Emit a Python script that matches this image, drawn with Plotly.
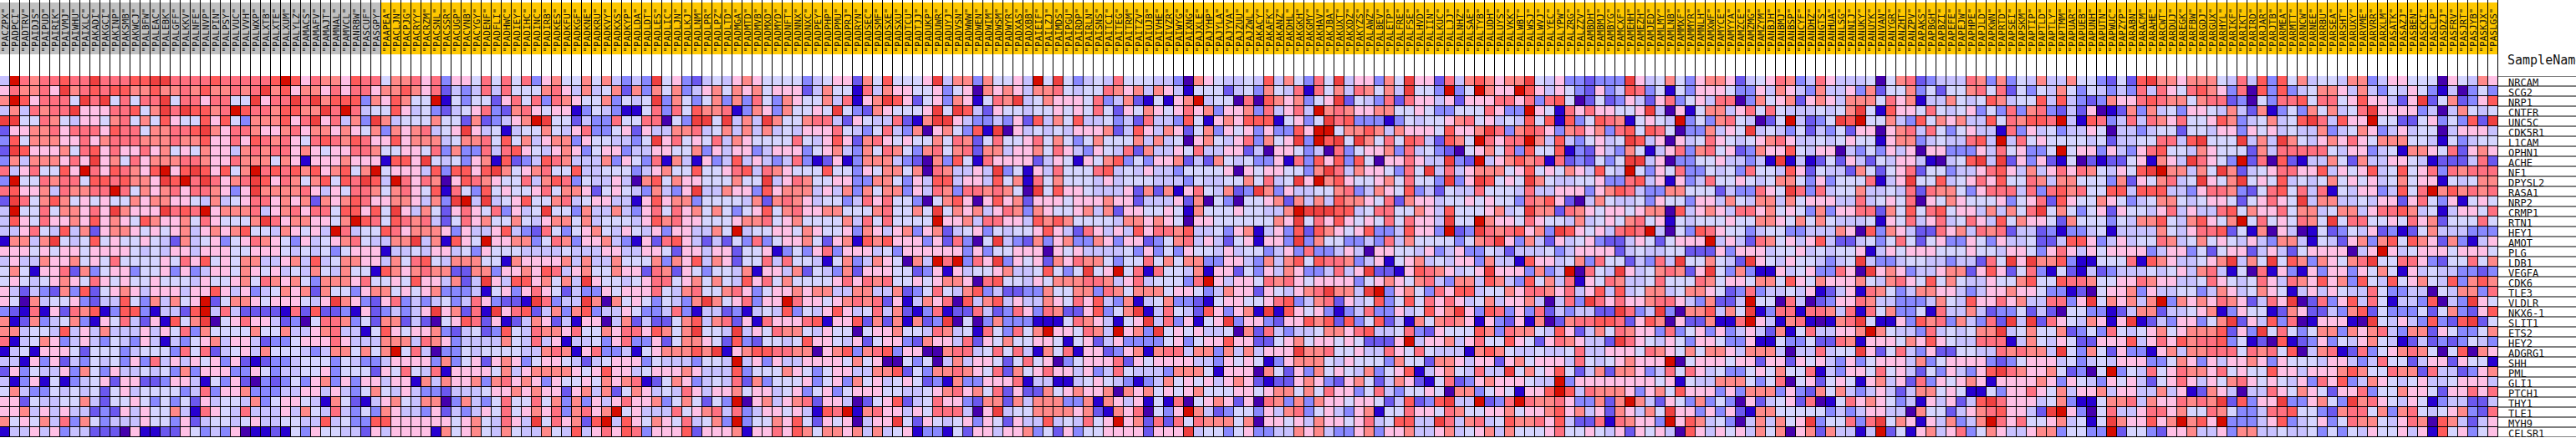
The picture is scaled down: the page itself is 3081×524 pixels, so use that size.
import plotly.graph_objects as go

WIDTH, HEIGHT = 3081, 524
GRAY_COUNT = 38
PALETTE = ["#4500AD", "#2700D1", "#6B58EF", "#8888FF", "#C7C1FF", "#D5D5FF",
           "#FFC0E5", "#FF8989", "#FF7080", "#FF5A5A", "#EF4040", "#D60C00"]

GENES = ["NRCAM", "SCG2", "NRP1", "CNTFR", "UNC5C", "CDK5R1", "L1CAM", "OPHN1", "ACHE", "NF1", "DPYSL2", "RASA1",
         "NRP2", "CRMP1", "RTN1", "HEY1", "AMOT", "PLG", "LDB1", "VEGFA", "CDK6", "TLE3", "VLDLR", "NKX6-1",
         "SLIT1", "ETS2", "HEY2", "ADGRG1", "SHH", "PML", "GLI1", "PTCH1", "THY1", "TLE1", "MYH9", "CELSR1"]

SAMPLES = """PACZPX PADPCI PADTRV PAIDJS PAIPUD PAIRIK PAIVMJ PAIWHU PAIXLC PAKADI PAKGCI PAKINP PAKSMB PAKWCJ PALBFW PALEAC PALEBK PALGFF PALKKV PALNFE PALNVP PALPIN PALPSY PALVUC PALVVH PALWXP PALXTB PALXTE PALXUM PALYLZ PAMACS PAMAFV PAMAJT PAMNAL PAMVCL PANRBW PASCUF PASGPY PAAPEA PACLJN PACPJG PACRYY
PACRZM PACSNL PACSSR PACUGP PACVNB PACYGY PADENF PADFLI PADHWC PADIEY PADIHC PADINC PADIRB PADKES PADKFU PADKGF PADKNE PADKRU PADKVY PADKXS PADKYP PADLDA PADLDT PADLES PADLIC PADLJN PADLKJ PADLNM PADLPR PADLPZ PADLTD PADMGA PADMTD PADMVB PADMXD PADMYD PADNFT PADNNX PADNXC PADPEY PADPHP PADPMU
PADPRJ PADRYN PADSEC PADSMF PADSXE PADSXU PADTCU PADTJJ PADUKP PADUWR PADUYJ PADVSN PADWWW PADWEN PADWIM PADWSM PADWYR PADXAS PADXBB PAIEIF PAILZJ PAIMDS PAIPGU PAIRDP PAIRLN PAISNS PAITCI PAITEG PAITRM PAITZV PAIUJB PAIVHE PAIVZR PAIWYG PAIXNG PAJXLE PAJYHP PAJYLA PAJYVA PAJZUU PAJZWL PAKACY
PAKAFK PAKANZ PAKDHL PAKGKH PAKGMY PAKHAV PAKJBA PAKUXT PAKXDZ PAKYZS PALAWZ PALBEV PALETP PALFRE PALFSE PALHVD PALIIN PALKUC PALLJJ PALNHZ PALSAE PALTYB PALUDH PALUYS PALVKK PALWBT PALWSJ PALWVJ PALYEC PALYPW PALZRG PALZZV PAMBDH PAMBMJ PAMBYG PAMCXF PAMEHH PAMEZH PAMJED PAMLMY PAMLNB PAMMXF
PAMMYR PAMNLH PAMXWF PAMYCE PAMYYA PAMZCE PAMZMG PAMZYM PANBJH PANBMJ PANBSP PANCYF PANDHZ PANGTS PANHUA PANLSG PANNIJ PANUKY PANUYK PANVAN PANYGR PANZHT PANZPV PAPAKS PAPBGH PAPBZI PAPEFE PAPEJW PAPHPE PAPJLD PAPKWN PAPRTD PAPSEI PAPSKM PAPTIP PAPTLD PAPTLY PAPTMM PAPUAR PAPUEB PAPUNH PAPUTN
PAPWUC PAPZYP PARABN PARACM PARAHE PARCWT PARDUJ PAREGK PARFBW PARGDJ PARGUX PARHYL PARIKF PARIKT PARIRD PARJAR PARJTB PARMEA PARMTT PARNCW PARNEE PARRBU PARSEA PARSHT PARUXY PARVME PARVRR PARXLM PASATK PASAZJ PASBEN PASCKI PASCLP PASDZJ PASFRV PASJRT PASJYB PASKJX PASLGS""".split()

# Colour level of each cell (0-9, a, b = palette index). One list per block of columns.
BLOCK_1 = """4 b 8 7 8 8 9 8 8 a 8 8 8 9 9 a a 8 8 8 8 9 8 8 8 8 8 9 b 9 6 8 7 7 6 9 8 8 5 7 7 8
6 8 7 7 8 6 a 7 8 9 8 9 9 7 7 9 7 7 8 7 9 7 7 8 7 8 a 7 9 6 7 7 6 8 6 8 8 6 7 7 9 7
7 b 9 6 8 8 8 5 a 8 a 5 8 5 8 8 a 5 8 8 6 8 8 5 5 a 6 8 8 a 8 a 7 9 9 9 3 7 6 9 7 5
4 7 4 8 7 8 8 a 6 6 6 8 8 9 5 7 a 8 a 9 9 7 8 b 9 8 8 7 9 9 7 7 a 8 b 8 4 5 5 9 6 4
a a 5 5 8 7 5 4 6 6 5 7 8 5 7 5 9 6 5 5 9 6 9 5 3 7 7 7 9 6 8 a 6 8 4 7 3 a 7 4 5 5
2 6 6 7 7 8 6 8 8 8 6 9 8 8 5 7 7 8 8 9 a 7 6 8 8 7 6 6 7 8 6 7 7 6 7 6 5 7 3 7 6 7
3 9 5 7 7 7 6 6 8 6 7 8 8 8 7 7 7 8 7 7 9 6 6 8 6 9 8 7 8 6 5 8 9 8 7 9 8 6 6 9 6 7
2 a 9 6 6 6 7 5 8 9 6 8 6 6 8 6 7 5 6 5 7 6 6 4 7 8 7 8 8 6 7 6 5 6 6 8 8 7 5 5 6 6
3 7 4 7 7 7 6 8 6 a 6 7 5 8 6 7 7 7 8 8 7 6 6 8 7 7 7 5 7 6 1 6 6 6 7 6 6 6 1 9 9 6
8 4 6 8 5 5 9 6 b 8 6 9 8 7 6 9 b 6 9 a 9 6 9 5 7 b 8 9 8 9 7 9 6 7 9 5 7 b 5 6 6 6
3 b 5 5 8 7 8 8 5 9 9 8 9 7 7 6 a 9 b 8 a 8 6 7 8 a 9 6 8 7 5 7 9 5 9 8 a 9 4 b 8 6
8 9 6 6 7 4 8 7 7 8 8 b 8 5 7 6 7 8 6 8 8 7 6 3 6 a 7 7 7 7 8 6 4 6 5 8 8 7 5 7 8 6
2 a 8 5 7 9 7 5 6 5 6 5 5 7 6 7 7 6 6 5 4 7 4 5 6 8 8 6 7 6 7 2 7 6 7 9 8 6 6 7 7 6
4 b 5 5 8 5 7 7 6 8 6 a 7 6 6 6 a 8 9 8 b 6 7 7 7 8 4 6 7 8 6 8 8 5 9 9 6 9 5 a 6 4
4 9 6 5 8 6 6 7 6 9 6 7 6 5 9 7 6 6 7 5 8 6 5 5 5 7 a 8 6 7 7 6 6 5 7 b 9 8 5 9 8 7
4 4 6 8 5 4 9 4 7 2 6 7 7 6 5 6 5 6 7 4 6 7 6 7 9 5 5 4 7 6 5 6 4 b 8 4 5 5 9 8 6 7
1 7 7 4 7 a 5 4 5 9 5 6 5 5 6 5 4 2 7 4 5 6 3 5 6 8 7 6 5 3 6 4 5 6 7 8 5 4 4 7 7 a
6 6 6 5 6 5 6 6 5 6 6 6 6 5 4 5 4 6 6 4 6 6 6 5 5 6 6 6 5 4 5 4 5 3 5 6 6 6 1 4 4 5
4 6 4 4 7 6 6 7 5 6 5 8 5 5 5 5 6 5 8 6 9 5 6 5 7 7 4 4 6 7 4 9 4 5 7 7 6 6 4 7 5 8
5 7 5 1 6 6 8 2 7 3 5 6 6 3 5 5 6 3 6 3 4 6 6 5 7 6 5 6 4 5 4 7 5 4 7 5 5 1 9 7 6 7
5 6 5 4 5 6 7 6 5 8 6 5 6 5 5 6 5 5 5 4 6 5 5 6 7 5 8 7 6 7 5 3 7 7 7 6 8 5 5 6 5 9
6 4 2 4 3 2 7 3 9 2 5 6 7 6 4 6 6 6 4 6 6 9 6 4 6 3 4 5 7 6 7 2 7 5 5 3 6 7 7 5 6 5
6 5 0 7 4 5 5 6 3 2 4 4 9 5 3 7 4 7 5 6 b 2 5 7 7 6 5 6 6 6 5 4 6 a 7 6 3 2 6 8 3 4
3 2 1 8 1 6 2 8 7 9 1 3 9 9 3 1 4 4 2 9 b 4 8 4 2 2 2 2 1 8 2 9 2 2 3 1 6 2 3 4 3 4
7 1 2 7 3 4 5 7 3 1 6 5 8 4 2 6 1 9 5 7 a 0 5 6 8 6 6 4 2 3 0 5 8 8 7 3 5 2 7 7 2 4
7 7 4 5 5 4 9 4 6 4 7 4 4 4 6 4 6 5 8 3 7 5 5 5 5 7 5 5 7 4 4 6 7 8 4 4 1 5 9 6 5 6
8 1 4 5 7 6 3 4 6 4 3 5 4 3 6 4 1 4 3 5 6 7 4 6 6 4 2 3 3 5 6 6 6 8 6 4 4 4 7 7 7 4
1 4 5 1 6 6 6 5 2 5 5 5 3 4 5 5 5 3 8 5 8 2 4 5 6 4 7 5 5 5 4 3 4 7 7 5 7 5 7 b 5 8
4 4 1 6 3 6 2 4 3 5 4 5 3 6 3 8 4 6 4 6 5 6 3 6 2 1 2 3 3 4 5 5 5 3 5 4 3 3 4 6 6 6
2 6 3 5 4 4 6 3 7 5 3 6 4 4 5 4 5 3 7 3 6 6 6 3 3 6 5 3 4 4 5 5 6 3 5 5 5 2 6 5 8 5
4 1 3 6 1 5 1 3 4 5 6 2 6 6 2 2 3 6 6 4 1 5 3 6 2 0 3 2 3 5 3 6 7 3 6 3 6 6 4 6 6 1
5 7 4 3 3 5 4 5 4 5 2 5 6 4 5 5 5 5 3 4 8 3 6 6 7 3 3 3 4 4 6 6 4 6 4 3 5 7 5 4 6 4
6 6 2 5 4 4 5 5 7 4 2 5 5 6 5 3 5 3 5 2 6 4 5 5 4 7 3 5 6 6 5 4 1 7 5 2 1 4 6 7 5 4
6 6 7 4 6 4 6 4 4 2 3 2 6 4 6 5 5 7 4 1 8 6 5 4 8 4 4 4 6 4 7 5 4 8 4 3 5 3 7 6 4 4
7 5 6 5 7 4 8 3 7 5 3 4 4 4 6 5 5 3 6 2 4 5 5 4 5 6 4 4 5 5 4 4 9 4 5 3 3 9 9 6 6 6
1 4 4 6 4 6 3 4 4 2 2 2 0 6 1 1 2 2 6 5 3 4 3 6 0 1 1 2 1 5 3 6 5 5 4 4 2 6 4 6 6 6"""

BLOCK_2 = """6 8 3 6 6 5 8 5 8 5 8 3 6 7 5 5 7 5 7 4 3 4 3 a 5 6 3 2 4 5 4 6 7 6 5 5 5 5 3 4 5 6
6 8 2 4 3 4 8 4 8 5 5 5 7 8 6 4 7 4 5 7 2 7 3 7 5 7 3 4 6 7 5 7 6 7 5 6 6 6 2 4 7 5
5 b 1 5 3 5 5 2 6 8 5 8 3 8 7 6 5 5 7 3 5 4 5 a 3 7 5 3 5 7 3 7 3 8 5 3 7 6 5 5 7 4
5 3 2 4 5 6 8 3 2 7 8 6 5 6 6 1 3 5 4 3 1 1 5 8 3 8 5 9 7 7 8 1 3 7 6 3 7 5 5 6 5 a
5 7 5 5 2 7 2 3 4 6 7 b a 5 5 2 4 3 3 8 5 5 8 8 0 5 3 a a 5 a 4 7 4 a 7 5 5 7 8 8 4
8 4 5 6 a 6 4 5 1 4 5 5 7 5 4 6 8 3 3 5 6 2 6 4 4 7 7 8 4 5 7 4 7 4 7 4 5 4 6 6 6 8
7 7 4 5 7 7 8 5 9 5 7 4 6 7 7 3 6 5 5 4 4 3 5 a 6 8 5 6 5 8 4 7 6 5 5 5 5 8 5 4 6 9
5 8 3 7 3 3 8 4 8 9 6 5 4 6 7 6 3 5 6 6 3 4 4 6 6 5 5 7 3 6 4 6 6 3 4 6 6 6 3 5 6 7
a 5 4 5 3 6 7 1 9 2 3 4 9 8 7 4 4 4 7 3 6 5 3 8 1 7 4 1 6 3 4 9 4 6 4 3 4 8 3 1 2 6
4 9 3 9 9 6 9 a 7 5 6 7 8 5 5 9 4 4 5 5 5 3 4 6 7 5 5 9 5 5 6 8 9 4 8 7 6 5 5 5 9 5
8 7 0 6 9 8 7 6 5 5 8 4 7 9 8 3 5 4 4 6 4 0 7 9 5 7 6 6 5 5 5 7 5 5 a 4 6 8 7 5 5 6
5 9 1 8 5 3 9 5 6 5 5 6 8 5 7 7 6 2 5 6 5 4 3 7 4 3 6 a 4 4 7 6 6 3 9 6 7 7 7 4 6 4
4 7 3 a b 4 a 4 5 6 9 5 5 7 8 4 5 6 6 4 4 1 6 9 6 7 7 3 5 5 5 5 4 7 2 7 8 7 6 4 5 5
7 5 2 6 8 6 5 8 3 6 4 5 a 5 5 3 7 4 4 7 4 3 6 8 5 8 6 7 5 7 5 3 5 6 9 5 7 8 6 6 7 7
8 4 2 5 8 6 7 5 5 7 5 4 6 7 7 5 7 4 5 5 5 4 6 9 7 8 6 6 5 5 5 6 7 7 8 5 6 7 5 5 5 5
7 7 6 3 6 4 4 6 9 4 3 2 8 5 3 5 6 7 5 4 6 5 4 6 3 6 6 4 4 7 5 b 4 5 5 6 6 5 7 6 5 5
4 7 1 9 6 5 b 6 6 7 7 3 5 8 7 3 6 6 7 4 3 1 6 2 8 9 6 4 2 4 2 5 3 8 3 5 6 6 7 5 2 6
4 6 6 4 5 3 6 5 5 5 4 4 4 4 5 4 4 4 6 6 4 4 6 6 5 2 6 6 4 6 6 2 5 5 6 1 3 5 3 6 8 3
9 5 4 7 7 7 5 5 1 7 6 6 6 6 7 4 7 4 4 7 5 5 5 7 3 7 6 9 4 7 6 2 5 5 8 4 8 5 5 4 1 5
8 7 7 2 2 7 7 3 6 6 7 6 9 8 4 6 7 5 5 7 6 6 2 8 7 2 6 5 3 5 5 4 7 1 6 6 4 7 2 5 4 3
6 6 4 7 2 4 a 6 4 9 9 6 7 5 7 4 a 6 5 5 4 5 6 8 8 5 6 7 5 7 5 4 9 6 8 5 7 5 5 5 5 6
6 7 3 3 3 4 1 5 6 3 6 8 6 5 2 4 3 3 6 5 6 6 6 8 5 4 7 8 5 5 7 8 6 3 5 6 6 7 6 7 7 4
3 4 5 3 4 8 6 3 2 2 1 a 8 3 4 4 a 7 0 7 5 6 5 3 5 4 3 7 a 7 5 6 8 3 6 6 b 8 6 6 5 6
6 a 6 7 2 8 1 a 6 8 9 2 4 7 3 7 9 3 4 4 6 5 3 3 4 8 3 1 4 4 2 3 1 4 5 4 9 3 5 4 6 9
2 0 5 6 9 8 2 6 1 2 4 7 6 2 4 1 6 6 0 4 7 2 4 2 2 5 7 9 4 7 8 2 6 1 8 6 6 6 8 9 1 6
6 7 3 2 4 5 2 3 9 5 4 8 7 7 6 8 5 5 7 6 8 8 6 9 7 5 7 a 5 5 4 a 4 6 5 8 7 7 5 4 6 5
8 7 6 3 4 4 4 4 7 5 4 8 4 6 1 4 4 5 3 6 8 3 3 6 2 5 7 7 6 5 2 9 3 2 5 5 4 5 9 6 6 5
4 0 3 3 5 4 5 5 5 5 4 4 7 8 7 1 6 8 3 3 4 1 5 6 7 7 7 9 7 a 1 6 7 9 9 8 8 7 7 0 6 7
6 3 7 3 5 6 2 6 7 6 3 5 6 6 5 4 2 4 5 6 6 6 3 5 4 4 4 3 5 5 4 b 4 6 3 6 4 4 6 6 6 6
4 8 1 6 6 6 6 5 7 4 6 7 7 7 7 6 5 6 9 6 6 4 5 6 6 6 7 6 4 4 4 9 3 5 5 5 7 6 5 3 5 6
7 4 7 6 6 7 3 7 8 6 7 6 3 6 5 5 6 5 7 6 7 8 1 2 5 7 6 3 4 5 4 8 2 7 3 5 5 5 6 3 5 6
3 3 2 4 4 4 5 6 6 7 6 7 6 6 2 6 7 4 7 2 5 7 6 4 5 4 8 6 4 6 6 7 5 6 6 4 5 6 3 5 6 3
7 7 0 3 7 4 3 5 8 5 5 8 5 7 3 7 3 6 4 6 8 6 6 7 3 5 7 5 2 5 3 b 0 6 7 4 6 7 8 2 6 6
3 6 2 4 3 4 6 5 8 5 6 7 6 8 3 7 8 6 7 b 5 6 4 4 4 8 5 6 7 8 4 8 3 4 6 6 5 6 4 1 9 8
6 6 6 5 6 7 5 4 8 6 4 a 5 8 6 7 2 9 b 4 9 6 5 7 6 5 8 4 5 7 3 b 3 5 5 7 6 9 5 2 6 5
6 1 7 5 6 7 5 4 7 5 4 4 7 5 4 9 4 6 8 6 9 8 3 6 6 6 9 2 6 6 6 7 1 6 6 8 6 9 7 5 7 7"""

BLOCK_3 = """6 2 7 5 9 5 5 5 6 a 4 7 7 3 7 5 5 6 4 b 5 a 5 3 4 5 4 8 5 5 5 4 4 3 0 7 6 5 4 4 5 4
5 1 8 4 7 6 6 5 5 6 3 5 6 0 7 6 7 6 4 7 7 8 5 4 5 5 8 7 6 7 4 7 6 4 1 5 5 5 2 4 5 3
8 1 6 7 a 9 6 2 5 6 3 7 6 1 5 8 7 a 4 5 7 6 6 6 5 8 3 4 7 2 1 5 1 6 7 b 4 5 5 0 8 0
5 3 2 7 6 5 5 5 6 a 5 a 9 4 2 6 5 5 4 5 5 6 5 6 5 8 5 2 6 5 7 6 5 6 8 6 7 3 6 6 7 3
2 6 5 4 4 8 2 1 7 a a 6 4 3 3 4 3 6 2 9 4 7 5 9 4 4 5 3 4 2 8 4 4 3 9 5 1 6 7 6 9 9
5 4 3 5 8 4 3 7 0 6 7 5 3 9 1 a 0 6 4 5 4 5 4 6 6 6 7 2 4 9 6 4 7 6 2 5 7 3 6 5 6 3
6 2 7 8 6 5 6 5 5 7 5 8 7 2 5 8 5 5 6 8 5 7 5 3 5 7 5 5 5 7 4 7 4 5 0 6 7 5 4 6 8 3
4 3 7 5 8 7 5 3 7 8 5 7 8 2 7 7 4 6 6 7 5 8 6 4 3 6 5 4 8 2 7 4 4 6 5 8 4 4 6 6 2 4
1 3 7 7 7 4 3 2 0 7 3 9 5 1 8 6 6 6 6 2 4 6 5 1 6 5 7 9 3 5 3 6 6 7 2 4 2 7 5 4 5 3
5 3 6 5 7 7 5 7 0 8 7 4 4 6 4 a 3 5 1 6 4 8 5 5 5 8 9 4 5 4 6 4 4 3 5 5 5 5 6 0 6 5
6 3 3 7 7 5 3 6 4 9 9 4 6 6 4 9 5 7 1 8 5 7 5 5 5 4 6 4 5 5 5 4 4 4 3 5 4 4 5 5 7 5
7 3 7 5 7 7 3 6 4 8 7 3 8 8 7 8 7 5 0 a 5 9 6 6 5 4 4 4 6 2 7 2 7 1 6 8 5 4 7 2 3 a
3 4 8 6 8 5 5 3 0 5 7 9 6 0 6 9 6 7 2 6 6 6 5 6 6 6 7 6 6 2 4 4 4 6 2 7 0 5 3 0 5 5
5 5 5 7 8 5 5 7 5 a 5 7 6 7 4 6 8 7 3 7 6 5 5 6 7 4 7 2 6 6 5 5 6 5 1 7 5 5 5 6 5 5
7 4 8 5 8 5 5 5 5 b 6 6 7 4 8 8 6 6 4 9 7 9 7 5 5 5 5 4 7 7 6 7 6 5 0 6 6 5 5 5 5 5
6 3 7 6 4 6 7 3 6 7 2 4 5 6 3 5 4 5 5 6 9 6 4 2 8 6 4 6 4 9 6 8 8 7 9 4 4 5 3 6 7 1
7 1 9 7 9 6 6 6 3 6 2 8 3 0 5 a 4 3 2 7 3 6 7 3 3 7 6 3 6 6 2 3 5 7 8 4 6 4 2 5 6 1
6 6 6 4 5 3 6 6 6 6 6 6 3 6 3 5 5 6 6 6 0 6 5 6 4 4 4 4 5 3 6 3 5 3 6 5 5 4 6 4 5 5
7 3 4 7 6 5 0 7 4 b 8 b 3 8 6 a 3 6 5 6 2 7 6 8 7 7 5 3 5 5 8 5 7 5 7 7 3 3 6 6 4 3
7 2 6 6 6 5 5 2 3 6 1 6 4 5 5 6 7 4 4 5 9 5 3 5 a 5 6 b 5 8 1 8 5 5 4 7 1 6 6 2 5 3
8 6 8 7 8 5 5 6 5 6 7 7 6 0 8 9 5 5 4 6 5 7 7 7 8 8 7 4 6 8 4 5 5 5 3 8 b 6 4 6 6 5
4 7 7 4 4 7 2 3 5 8 5 4 7 9 3 4 2 2 3 3 7 5 5 7 7 3 8 7 5 7 7 7 5 6 6 5 3 4 7 6 6 2
7 8 7 8 2 6 1 4 7 6 8 0 9 4 7 9 4 6 4 4 7 6 5 8 6 9 4 3 7 1 4 5 7 3 3 2 1 5 6 6 5 5
6 4 5 8 4 7 2 1 3 8 1 2 2 8 4 2 3 8 6 3 8 7 2 2 6 9 3 5 7 a 1 4 8 5 4 2 9 6 3 6 7 1
6 9 2 7 2 7 1 7 2 3 a 0 5 0 3 7 3 3 3 1 1 1 5 8 7 6 4 1 5 6 a 4 8 3 6 1 5 6 a 3 6 6
5 0 5 6 6 7 5 5 4 8 7 4 5 1 8 5 3 8 5 7 b 6 6 5 8 7 4 b 6 7 3 a 5 6 5 6 4 4 5 0 7 2
4 6 2 5 6 6 3 2 7 6 6 4 8 2 6 5 7 5 5 6 6 5 1 5 6 2 4 6 3 3 3 3 5 6 3 5 6 6 9 6 6 2
9 3 7 8 9 3 6 6 0 0 7 8 8 4 5 8 5 8 4 1 7 5 8 1 6 6 2 3 6 7 1 7 8 8 4 7 7 3 7 4 7 4
5 7 5 6 0 0 5 3 5 0 4 7 4 6 6 5 2 5 8 5 6 0 3 5 6 6 6 8 2 6 5 6 6 6 6 4 4 3 6 5 6 5
6 4 4 7 7 9 2 5 3 7 7 8 7 6 5 8 2 7 5 6 8 6 6 4 6 3 4 8 5 4 4 4 3 7 7 7 5 1 6 6 6 0
3 7 5 6 4 5 6 5 2 3 1 7 3 3 6 6 6 8 1 4 4 1 1 4 5 6 5 4 3 1 3 4 7 5 6 5 6 4 6 7 6 2
5 6 6 6 5 5 4 4 5 6 7 8 6 7 5 8 2 6 2 2 7 5 6 7 6 6 7 0 7 6 7 5 6 5 6 7 5 5 5 6 6 5
4 0 2 5 6 9 2 4 5 8 6 6 3 2 7 7 2 7 4 7 7 7 3 3 7 1 7 6 4 6 1 5 1 8 0 5 6 7 6 2 6 0
b 1 7 8 6 6 4 6 5 8 8 8 4 0 6 a 4 5 5 7 7 7 7 6 7 2 1 7 6 8 0 5 3 6 b 7 4 2 3 5 5 3
6 0 4 6 6 a 5 2 6 5 4 5 6 3 6 5 2 6 4 4 9 4 5 4 8 5 6 b 6 7 2 8 2 8 5 8 7 7 7 5 7 0
6 7 4 7 4 5 6 1 3 3 1 5 2 6 6 4 6 6 7 3 5 2 6 3 5 5 6 6 6 6 2 6 6 6 a 4 5 5 3 5 6 3"""

BLOCK_4 = """9 4 7 5 3 8 5 a 4 6 6 3 7 5 a 6 6 2 8 4 7 9 7 6 7 7 a 5 4 6 3 3 2 3 3 3 a 6 4 5 7 5
7 5 4 8 1 8 5 7 4 8 7 5 7 4 a 5 5 3 b 3 5 b 7 6 6 b 9 6 4 6 5 3 2 6 3 4 9 8 3 5 1 5
9 7 6 7 3 5 6 a 2 5 4 3 8 2 8 6 6 4 6 2 6 6 6 8 8 6 8 3 8 9 5 0 2 5 2 3 6 4 2 6 8 3
8 4 6 8 4 b 7 8 7 6 6 7 7 5 5 6 5 3 3 5 5 5 8 6 3 3 b 6 5 1 8 6 8 6 6 5 5 6 a 4 0 6
9 1 5 6 3 5 a 8 9 3 3 3 1 3 5 4 5 5 6 7 8 5 6 4 5 4 9 5 9 1 9 3 5 9 8 7 1 5 6 5 4 b
6 3 3 9 6 b b 5 7 7 9 7 4 7 6 6 6 5 9 6 6 7 a 8 3 7 9 8 6 3 7 8 6 7 3 8 9 5 9 8 5 0
7 5 6 a 3 b 9 a 5 a 7 5 8 5 9 8 4 2 9 7 5 b 8 6 8 8 b 7 4 9 4 3 5 6 4 5 a 9 4 6 0 6
0 6 6 5 3 4 0 8 3 5 6 6 7 3 8 4 5 3 2 0 5 6 7 5 8 3 9 5 5 9 1 3 2 6 4 3 7 5 1 4 6 8
3 6 1 8 3 9 6 9 3 9 5 0 6 6 8 6 4 4 a 3 2 b 4 6 7 9 7 8 1 8 2 3 2 5 3 5 a a 4 6 0 3
6 6 5 5 3 7 a 8 4 7 6 6 5 3 8 5 a 4 8 4 6 7 7 7 5 6 9 5 6 5 7 6 4 9 5 4 b 5 3 6 5 8
8 4 5 a 6 b 7 9 6 5 5 6 7 5 8 5 5 3 a 3 6 a 9 5 6 5 a 7 5 4 4 5 5 6 3 3 8 9 4 6 1 6
7 3 6 4 4 5 5 7 8 3 4 7 6 5 9 3 4 2 5 4 4 8 5 5 5 4 8 4 4 6 6 6 3 6 7 9 8 4 3 3 7 7
6 7 2 7 4 7 4 9 7 7 6 5 8 2 7 6 6 4 5 5 6 5 6 5 5 3 8 7 9 6 2 0 4 7 5 4 4 5 3 6 5 5
4 4 7 b a a a 9 9 4 5 8 8 5 5 7 6 4 9 5 5 5 6 7 4 5 a 7 7 2 8 7 6 5 6 6 5 6 7 7 0 9
5 7 6 a 5 8 6 9 6 5 6 5 8 5 8 6 6 4 a 5 5 b 7 6 6 5 8 6 5 5 4 7 4 5 6 5 7 8 5 6 1 5
4 6 3 9 2 9 7 6 5 6 9 3 3 4 9 6 6 3 b 2 3 a 8 7 8 9 6 7 3 a 9 6 5 6 4 8 9 8 b 4 0 5
6 6 3 a 3 7 5 5 3 3 4 3 8 4 7 5 5 5 5 3 5 7 8 a 6 3 7 4 2 6 4 5 6 3 2 2 4 6 5 2 5 6
3 4 6 3 8 3 3 4 6 4 0 6 6 5 5 4 6 3 4 6 3 3 5 4 2 4 4 4 5 3 4 6 6 6 6 2 4 5 4 4 5 5
7 4 7 9 5 9 8 8 7 3 4 6 1 5 6 7 4 5 4 6 6 3 7 4 4 1 9 6 6 4 5 7 3 8 5 5 2 4 3 8 4 a
6 4 7 6 3 3 4 8 4 6 a 2 2 1 6 9 8 7 6 4 5 6 a 6 6 6 3 7 3 4 b 0 8 5 4 a 6 4 5 7 8 7
8 7 8 6 5 6 6 6 6 3 5 6 7 6 5 7 8 4 3 7 7 4 9 7 4 3 9 5 7 4 8 1 6 5 8 7 4 4 5 8 5 5
6 5 4 6 7 8 a 7 7 4 a b 3 6 7 5 3 8 6 9 9 4 5 5 7 6 8 8 7 6 8 4 6 9 4 9 4 5 7 7 4 5
6 8 9 3 4 7 8 2 6 4 5 9 3 5 9 5 8 6 8 6 4 5 7 4 6 6 7 4 0 4 8 3 a 8 6 8 6 6 7 8 8 6
a 1 9 6 5 6 3 1 3 4 8 3 3 6 4 5 9 6 7 a 6 3 9 8 3 6 3 8 2 4 3 4 4 2 2 a 8 3 4 a 3 0
3 2 6 6 9 7 9 2 9 3 5 9 2 4 1 7 5 7 8 7 6 1 6 3 2 6 1 7 0 2 7 8 8 9 9 8 2 6 9 7 0 6
8 4 3 4 4 5 7 7 6 8 9 4 4 5 8 3 2 6 5 5 5 9 7 3 8 7 7 5 4 9 6 2 4 7 5 8 7 6 6 3 8 3
2 5 6 7 5 6 6 5 6 5 2 2 2 6 b 4 6 6 7 4 6 8 5 5 9 6 5 2 6 8 7 6 4 4 2 a 8 6 5 4 6 5
6 6 6 a 7 7 8 5 5 6 4 4 8 6 5 8 5 4 4 4 1 7 9 7 5 4 4 5 4 4 5 8 4 4 6 6 6 5 8 7 6 5
1 3 6 7 7 7 5 4 6 5 5 5 3 7 5 5 2 7 7 6 4 6 6 2 6 7 5 6 6 6 4 8 5 4 5 6 7 6 6 6 b 0
7 5 2 6 3 7 5 6 5 4 7 3 5 6 9 1 4 6 7 5 4 8 4 4 a 5 7 5 6 9 5 2 4 7 2 7 7 6 3 4 8 5
1 2 2 6 7 6 3 2 6 7 5 2 4 7 6 2 1 5 8 2 3 6 7 6 6 6 5 4 4 b 3 6 6 6 6 6 6 6 6 5 6 1
6 7 7 5 7 5 8 6 6 3 5 8 4 3 5 5 6 5 0 7 7 3 5 6 5 1 6 6 9 b 9 4 8 7 7 7 6 3 6 7 5 9
8 7 3 7 3 7 6 6 5 6 6 5 2 4 9 2 3 9 a 4 4 b 2 3 8 b 8 7 7 8 6 3 3 7 2 7 b 7 4 2 6 5
6 4 7 8 3 5 6 4 3 6 7 1 5 5 8 6 6 5 8 7 5 5 6 6 7 5 6 6 7 9 6 7 4 6 2 7 6 4 7 5 a 6
6 6 5 6 4 7 6 6 5 6 8 4 5 9 9 4 4 a 8 4 7 8 4 5 9 7 7 8 6 9 4 2 2 8 1 8 7 6 6 3 b 6
3 4 4 7 6 7 4 3 3 6 7 3 6 6 7 4 4 6 7 4 5 6 7 4 7 5 5 5 6 8 5 5 6 5 4 6 2 6 5 6 4 0"""

BLOCK_5 = """3 6 7 7 6 2 4 5 6 8 7 3 4 8 6 4 4 4 5 0 5 7 8 2 3 4 4 4 8 7 3 7 3 5 4 7 4 4 7 5 5 3
3 6 6 6 5 3 3 6 4 7 6 4 3 7 4 4 6 3 7 2 5 5 7 3 5 2 5 5 7 8 5 8 2 5 3 5 4 7 5 3 5 4
5 6 4 8 8 0 3 7 5 6 7 2 6 7 6 4 7 7 7 5 8 6 7 1 4 4 7 5 4 5 9 7 4 5 5 9 4 9 4 3 2 3
1 5 7 7 4 6 8 5 8 5 4 4 4 5 4 5 7 a 5 1 9 6 6 5 8 5 4 5 6 3 5 3 8 3 7 8 3 2 4 2 6 0
3 5 3 7 8 5 4 0 2 5 b 4 2 3 5 a 9 b 5 5 7 4 3 9 5 7 6 7 4 4 9 5 8 7 9 9 8 b 4 1 9 8
3 3 7 4 6 5 a 4 5 4 3 5 2 4 3 5 2 6 6 0 6 7 8 4 8 5 3 5 6 4 4 1 8 3 6 4 5 3 4 4 6 5
4 5 8 6 5 4 5 6 7 8 6 4 4 5 4 5 6 5 5 1 6 7 7 3 4 5 4 4 8 9 4 b 4 8 5 6 5 5 5 5 4 5
3 7 8 5 6 2 3 7 6 6 9 5 4 6 6 0 4 3 5 3 6 4 6 0 6 6 3 3 3 6 4 8 5 6 3 3 5 b 5 6 6 3
3 5 5 6 4 4 3 4 1 a 1 4 1 2 5 2 6 4 2 5 4 6 6 4 1 0 4 5 9 a 4 a 2 6 3 6 2 1 5 0 2 1
3 3 5 4 5 3 8 5 5 4 9 6 2 5 4 4 2 7 5 2 5 6 8 2 5 5 3 4 4 6 8 9 6 4 7 4 6 8 6 8 7 5
3 4 8 5 5 6 5 4 5 7 7 5 3 6 3 5 5 5 8 1 4 6 a 5 5 9 4 5 6 8 6 9 5 5 8 7 4 7 7 5 5 5
5 5 5 2 4 3 3 8 6 5 a 8 3 8 4 5 5 7 4 4 5 4 8 2 8 7 7 5 3 6 8 8 8 4 8 3 8 9 7 8 5 5
3 6 6 4 7 5 4 7 7 4 7 5 6 6 6 4 4 8 4 5 6 5 8 0 6 5 7 6 5 5 5 6 3 5 6 8 2 9 6 5 5 7
4 6 7 6 4 8 8 6 7 5 6 5 3 7 3 6 6 8 8 2 7 5 9 5 8 9 5 6 6 4 7 4 7 5 8 a 5 7 5 3 5 6
4 5 5 5 6 5 5 7 7 6 5 7 5 7 5 4 4 4 5 1 6 5 8 4 6 8 4 5 8 6 4 9 5 7 6 6 5 2 7 5 5 5
3 9 8 6 5 5 3 4 5 5 3 3 4 4 4 7 6 0 9 3 7 6 4 2 2 8 6 7 4 8 7 8 2 4 4 2 3 1 3 3 4 5
6 6 b 4 6 4 2 8 7 5 6 4 6 9 4 2 2 4 5 3 5 8 5 2 5 6 3 3 6 5 3 6 4 4 5 2 2 4 9 9 6 3
2 2 2 6 3 6 6 6 4 5 5 6 4 5 4 5 5 6 1 4 6 5 6 6 6 5 5 5 6 5 5 4 6 6 5 3 6 8 6 4 6 5
5 5 7 5 4 2 a 6 5 4 6 5 5 4 3 4 5 a 4 3 3 4 5 5 4 4 3 4 4 2 8 5 a 6 a 7 7 9 3 1 1 5
2 6 a 5 3 7 3 1 1 6 4 5 6 3 3 8 6 0 a 6 7 6 3 4 4 6 7 7 2 6 9 6 2 5 8 3 1 5 2 1 4 2
5 8 7 5 6 6 5 7 7 5 9 6 5 7 6 6 6 7 5 4 7 8 6 5 9 5 7 5 4 4 6 5 5 7 9 5 5 9 8 8 7 5
7 7 6 5 2 3 8 3 4 4 5 4 6 1 2 4 6 1 8 7 5 3 4 7 7 6 6 4 3 4 6 6 7 6 6 5 3 3 1 2 0 5
4 3 7 2 2 4 b 5 5 0 8 4 0 2 3 6 6 8 7 4 4 3 3 3 4 7 5 4 9 6 6 8 6 7 4 4 8 8 3 6 a 5
7 7 9 4 7 5 a 1 3 8 8 1 8 8 7 4 8 1 8 5 7 3 3 5 1 8 4 4 7 4 2 3 3 5 2 4 2 0 5 5 3 3
2 2 7 1 1 8 b 6 4 1 7 8 1 0 1 7 8 a 5 1 1 6 3 9 7 8 3 7 4 3 8 2 a 4 a 2 8 6 5 4 7 6
5 6 3 6 3 4 6 4 2 7 1 5 8 4 4 6 6 7 b 7 5 4 4 3 8 4 5 4 5 7 7 a 4 5 7 5 5 7 2 3 5 3
3 6 6 5 3 3 6 1 1 5 3 3 5 2 2 8 7 1 6 6 6 5 7 6 9 6 5 4 4 8 8 8 1 4 7 5 4 6 5 2 2 6
7 5 7 7 6 4 7 7 7 4 0 4 4 8 4 5 5 a 6 2 5 8 4 3 6 2 2 5 5 4 4 8 7 8 7 7 4 a 5 3 7 5
5 6 6 6 5 6 6 2 6 6 2 6 5 6 4 3 6 3 5 6 6 6 4 7 3 5 6 6 6 6 3 2 3 5 6 6 6 4 5 3 4 5
8 6 4 5 3 3 5 6 5 7 5 5 8 1 4 3 6 6 5 8 5 6 4 2 5 3 6 4 3 6 9 a 8 7 6 6 7 5 2 3 0 5
5 4 4 7 7 7 5 3 5 8 0 5 6 2 5 6 5 1 6 7 4 6 2 8 3 6 5 6 7 6 1 6 6 6 6 7 6 3 6 5 4 3
6 6 6 3 6 3 7 7 7 3 6 3 2 7 5 7 4 3 4 6 4 2 4 7 7 5 6 5 1 1 5 3 6 6 8 6 5 7 4 6 6 7
3 7 3 5 3 0 6 2 4 5 6 2 8 0 1 5 8 6 7 6 5 3 4 1 6 4 6 2 4 9 a 8 6 6 6 4 5 7 3 1 1 5
6 3 6 3 6 2 1 7 7 5 5 5 5 5 3 4 3 4 6 6 4 4 0 7 5 5 2 4 6 7 8 9 6 6 4 2 a b 6 3 0 5
9 7 4 5 3 0 4 7 4 7 5 6 a 3 5 5 8 3 8 a 5 7 6 1 6 4 7 3 4 7 b 8 6 8 5 5 6 7 4 5 1 5
9 6 4 6 5 6 4 7 5 7 0 6 7 2 7 4 4 1 4 b 2 5 1 6 7 4 6 8 3 5 7 6 4 4 6 7 7 3 5 5 3 3"""

BLOCK_6 = """2 5 2 9 a 7 7 6 7 7 7 5 4 8 4 9 3 9 5 7 4 5 5 4 7 7 3 4 6 6 5 5 5 0 6 5 4 7 6
3 4 3 8 4 8 6 5 8 9 7 6 3 8 0 9 3 9 3 4 5 7 7 6 4 7 4 3 5 4 6 5 3 1 4 0 3 5 3
7 6 6 8 9 8 7 7 5 7 8 8 2 3 0 5 3 8 8 9 5 8 8 5 6 9 6 6 4 2 6 a 2 5 7 2 3 6 9
1 2 7 3 7 4 5 3 6 6 5 4 7 4 2 7 1 3 5 3 7 5 7 4 5 8 a 6 6 6 6 3 4 0 4 7 5 4 5
3 4 8 4 8 7 6 8 5 5 6 9 7 3 4 5 7 4 5 9 a 8 4 9 6 6 b 5 5 2 2 5 6 3 5 3 9 2 a
0 4 4 3 4 5 5 2 5 5 4 6 6 3 6 5 6 4 5 4 4 7 3 4 5 7 6 3 4 6 4 5 5 0 4 6 6 6 4
2 4 4 5 5 8 8 4 9 a 5 5 5 a 4 7 4 a 7 5 4 6 7 6 8 6 5 7 7 7 5 5 4 1 5 3 4 5 5
6 4 3 6 8 9 5 5 4 7 6 5 5 5 2 7 4 8 8 8 8 8 5 4 6 6 3 4 5 1 7 7 6 5 8 2 6 7 6
2 2 5 6 1 7 6 4 a 8 6 5 3 b 2 8 0 9 2 1 4 4 7 5 2 7 4 4 6 6 5 4 1 2 2 2 4 8 2
4 6 5 9 a b 7 7 4 7 5 a 7 2 4 5 6 8 8 6 6 9 4 6 5 6 9 4 5 9 5 6 8 3 8 7 8 8 8
3 7 2 6 5 7 8 4 5 a 6 5 7 a 5 6 5 9 4 5 4 5 7 5 6 5 6 4 5 7 5 6 6 1 5 4 5 7 7
9 9 4 9 9 9 4 4 3 6 8 8 7 3 2 5 8 9 5 8 4 8 1 5 4 6 6 3 4 9 5 8 b 7 9 7 8 7 8
6 5 3 4 5 7 7 5 4 5 6 6 5 2 5 6 8 6 5 a 4 7 7 4 4 5 4 6 6 2 6 8 5 3 6 1 5 6 5
2 6 5 5 4 6 8 4 6 4 4 8 9 5 7 6 6 8 5 7 7 4 5 7 7 4 6 8 8 9 7 4 5 1 4 6 6 5 8
3 5 4 7 7 9 5 4 7 9 6 5 7 b 5 8 5 6 5 8 7 5 a 5 8 8 5 5 6 5 8 6 7 2 5 5 5 8 5
1 4 4 4 4 7 5 4 6 8 8 9 2 5 1 7 0 6 4 0 1 5 2 3 5 4 6 2 3 1 2 5 7 4 4 4 3 3 3
4 6 4 5 5 8 7 4 5 7 5 6 5 4 6 4 3 7 7 4 1 5 4 2 6 7 3 7 9 5 9 7 6 2 7 3 1 4 6
6 6 6 6 3 4 6 6 3 5 2 5 6 6 2 4 6 4 2 5 6 6 6 6 0 4 6 b 6 4 5 6 6 6 5 6 6 6 5
5 5 8 1 9 7 6 4 4 5 6 7 a 4 7 5 a 5 9 7 3 7 6 5 7 8 a 5 5 8 8 6 3 2 5 5 8 5 7
3 4 4 4 5 4 5 6 4 7 8 4 1 5 0 8 1 6 3 1 6 3 6 6 3 6 5 7 5 1 6 4 5 4 4 3 3 2 3
5 6 6 8 7 6 6 4 4 5 8 6 5 4 5 8 6 4 8 7 6 9 6 7 3 9 5 4 9 5 6 7 5 4 9 3 7 9 7
6 6 7 3 6 4 4 5 5 3 4 7 6 4 5 7 6 5 1 4 6 4 6 5 4 4 8 5 3 3 4 4 0 5 4 7 7 3 8
7 6 7 4 7 b 3 7 6 7 6 8 7 6 2 4 8 6 a 0 2 8 3 6 9 4 8 5 1 4 4 3 9 0 4 3 a 6 5
1 2 4 7 7 2 4 4 5 6 7 1 3 6 5 5 1 2 7 6 2 2 4 3 7 9 2 5 3 3 3 5 2 5 7 3 2 6 9
1 6 a 1 2 4 3 6 6 3 5 7 a 2 6 4 9 3 8 0 1 6 6 6 1 0 a 5 4 6 4 3 9 3 2 9 a 2 5
8 5 4 5 6 7 5 6 7 7 7 9 2 6 3 a 5 8 5 3 5 7 7 3 7 6 7 8 4 3 7 7 2 6 5 3 3 5 7
6 6 9 4 6 8 6 9 7 8 8 9 3 5 1 2 0 9 1 2 3 6 3 5 4 6 7 5 4 1 2 4 2 3 2 3 5 4 3
2 6 3 3 1 6 7 4 7 7 8 8 8 5 8 7 8 5 9 0 4 7 8 1 2 8 3 5 6 7 8 7 5 0 5 9 0 7 6
4 6 6 6 3 3 5 7 6 3 6 4 6 6 7 6 3 6 5 5 5 4 6 6 4 3 4 8 5 5 2 4 6 6 2 6 5 5 1
b 3 5 4 8 5 6 8 7 7 6 8 5 6 5 5 9 6 6 4 6 6 6 7 9 7 5 5 8 7 7 2 8 4 4 2 3 6 7
6 5 6 4 2 5 6 8 6 4 6 5 7 8 6 5 6 5 4 6 3 8 6 9 3 4 7 6 5 4 5 6 4 4 5 6 6 6 4
4 6 6 4 4 7 4 6 1 2 7 6 4 0 4 4 8 6 5 7 6 5 2 6 6 8 3 5 5 7 6 6 5 2 6 6 8 6 8
7 7 8 4 7 6 6 8 7 8 7 a 2 9 3 6 6 a 3 3 6 7 5 3 a 7 8 6 5 4 6 5 1 3 4 4 2 2 4
8 4 4 6 8 8 6 7 5 5 8 7 5 3 3 4 8 8 9 5 5 3 2 7 8 8 5 7 3 7 8 5 4 5 6 7 3 2 8
a 7 6 6 9 6 7 b 7 9 6 b 3 3 3 4 6 9 3 4 5 6 3 5 8 7 7 5 4 6 8 7 0 9 7 4 2 4 6
b 2 5 5 3 2 6 6 7 4 4 6 3 7 7 4 4 5 4 4 5 3 5 3 5 4 6 5 5 6 4 6 1 9 5 6 3 5 6"""

BLOCKS = [(BLOCK_1, 42), (BLOCK_2, 42), (BLOCK_3, 42), (BLOCK_4, 42), (BLOCK_5, 42), (BLOCK_6, 39)]


def fit(tokens, n):
    return (tokens + tokens[-1:] * n)[:n]


z = []
for r in range(len(GENES)):
    row = []
    for text, n in BLOCKS:
        row += [int(t, 16) for t in fit(text.split("\n")[r].split(), n)]
    z.append(row)

n_cols = len(SAMPLES)
xs = list(range(n_cols))
HEAD_H = 91
BOTTOM_PAD = 1
PLOT_W = 2988

# top band: white strip, class colour strip, white strip (edges in pixels)
band_edges = [0, 3, 65, HEAD_H]
cls = [1 if i < GRAY_COUNT else 2 for i in xs]
band_z = [[0] * n_cols, cls, [0] * n_cols]

fig = go.Figure()
fig.add_trace(go.Heatmap(
    z=band_z, x=xs, y=band_edges, xaxis="x", yaxis="y", xgap=1, ygap=0, zmin=0, zmax=2,
    colorscale=[[0, "#FFFFFF"], [1 / 3, "#FFFFFF"], [1 / 3, "#C0C0C0"], [2 / 3, "#C0C0C0"], [2 / 3, "#FFC800"], [1, "#FFC800"]],
    showscale=False, hoverinfo="skip"))

steps = []
for i, c in enumerate(PALETTE):
    steps += [[i / 12, c], [(i + 1) / 12, c]]
fig.add_trace(go.Heatmap(
    z=z, x=xs, y=list(range(len(GENES))), xaxis="x2", yaxis="y2", xgap=1, ygap=1,
    zmin=-0.5, zmax=11.5, colorscale=steps, showscale=False, hoverinfo="skip"))

annots = []
for i, s in enumerate(SAMPLES):
    annots.append(dict(x=i, y=64, xref="x", yref="y", text='"%s"' % s, textangle=-90, showarrow=False,
                       xanchor="center", yanchor="bottom", borderpad=0,
                       font=dict(family="DejaVu Sans Mono", size=11, color="#111111")))
for k, g in enumerate(GENES):
    annots.append(dict(x=2999 / WIDTH, y=k, xref="paper", yref="y2", text=g, showarrow=False, xanchor="left",
                       yanchor="middle", yshift=-2, borderpad=0,
                       font=dict(family="DejaVu Sans Mono", size=12, color="#111111")))
annots.append(dict(x=2998 / WIDTH, y=72, xref="paper", yref="y", text="SampleName", showarrow=False, xanchor="left",
                   yanchor="middle", borderpad=0, font=dict(family="DejaVu Sans Mono", size=15, color="#111111")))

shapes = [dict(type="line", xref="paper", yref="y2", x0=PLOT_W / WIDTH, x1=1, y0=k - 0.5, y1=k - 0.5,
               line=dict(color="black", width=1)) for k in range(len(GENES) + 1)]

top_frac = (HEIGHT - HEAD_H) / HEIGHT
axis_off = dict(visible=False, showgrid=False, zeroline=False, fixedrange=True)
fig.update_layout(
    width=WIDTH, height=HEIGHT, margin=dict(l=0, r=0, t=0, b=0), paper_bgcolor="white", plot_bgcolor="black",
    xaxis=dict(domain=[0, PLOT_W / WIDTH], range=[-0.5, n_cols - 0.5], anchor="y", **axis_off),
    yaxis=dict(domain=[top_frac, 1], range=[HEAD_H, 0], anchor="x", **axis_off),
    xaxis2=dict(domain=[0, PLOT_W / WIDTH], range=[-0.5, n_cols - 0.5], anchor="y2", **axis_off),
    yaxis2=dict(domain=[BOTTOM_PAD / HEIGHT, top_frac], range=[len(GENES) - 0.5, -0.5], anchor="x2", **axis_off),
    annotations=annots, shapes=shapes, showlegend=False)

fig.write_html("out.html", config={"displayModeBar": False},
               post_script="document.body.style.margin='0';document.documentElement.style.overflow='hidden';")
